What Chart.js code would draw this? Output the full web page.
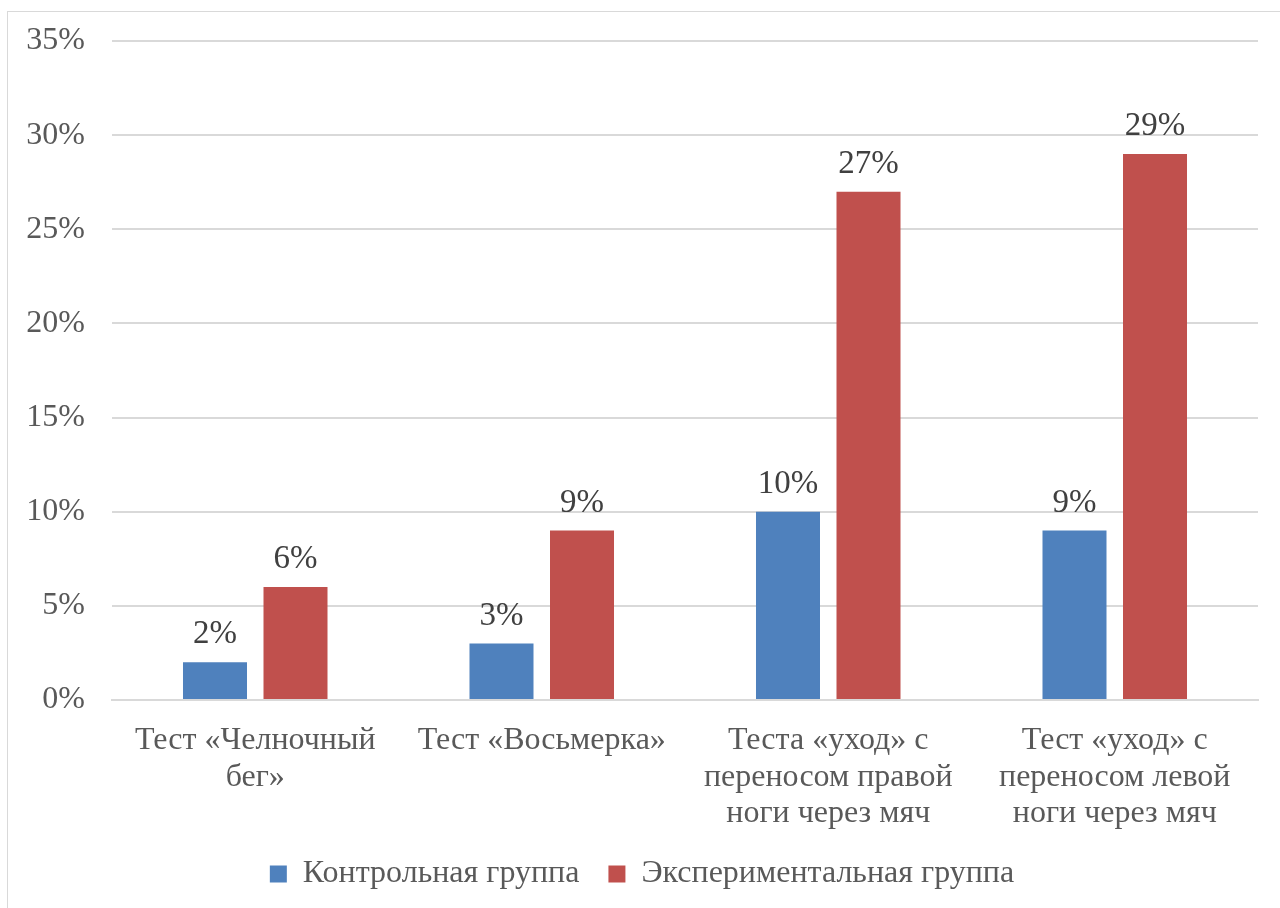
<!DOCTYPE html>
<html>
<head>
<meta charset="utf-8">
<script src="https://cdn.jsdelivr.net/npm/chart.js@4.4.1/dist/chart.umd.min.js"></script>
<style>
  html, body { margin: 0; padding: 0; background: #fff; }
  body { width: 1280px; height: 908px; overflow: hidden; position: relative; }
  .frame { position: absolute; left: 7px; top: 11px; width: 1300px; height: 1000px; border: 1.5px solid #d9d9d9; box-sizing: border-box; }
  .wrap { position: absolute; left: 0; top: 0; width: 1280px; height: 908px; }
</style>
</head>
<body>
<div class="frame"></div>
<div class="wrap"><canvas id="chart"></canvas></div>
<script>
const categories = [
  ['Тест «Челночный', 'бег»'],
  'Тест «Восьмерка»',
  ['Теста «уход» с', 'переносом правой', 'ноги через мяч'],
  ['Тест «уход» с', 'переносом левой', 'ноги через мяч']
];
const controlValues = [2, 3, 10, 9];
const experimentValues = [6, 9, 27, 29];
const seriesNames = ['Контрольная группа', 'Экспериментальная группа'];

const FONT = '"Liberation Serif", "Times New Roman", serif';

// value labels above each bar
const barLabels = {
  id: 'barLabels',
  afterDatasetsDraw(chart) {
    const ctx = chart.ctx;
    ctx.save();
    ctx.font = '33px ' + FONT;
    ctx.fillStyle = '#404040';
    ctx.textAlign = 'center';
    ctx.textBaseline = 'alphabetic';
    chart.data.datasets.forEach((ds, i) => {
      chart.getDatasetMeta(i).data.forEach((bar, j) => {
        ctx.fillText(ds.data[j] + '%', bar.x, bar.y - 19);
      });
    });
    ctx.restore();
  }
};

new Chart(document.getElementById('chart'), {
  type: 'bar',
  data: {
    labels: categories,
    datasets: [
      { label: seriesNames[0], data: controlValues, backgroundColor: '#4f81bd' },
      { label: seriesNames[1], data: experimentValues, backgroundColor: '#c0504d' }
    ]
  },
  options: {
    responsive: true,
    maintainAspectRatio: false,
    animation: false,
    categoryPercentage: 0.562,
    barPercentage: 0.795,
    layout: { padding: { left: 26, right: 22, top: 41, bottom: 8 } },
    scales: {
      x: {
        grid: { display: false, drawTicks: false },
        border: { display: true, color: '#d9d9d9', width: 2 },
        ticks: {
          color: '#595959',
          font: { family: FONT, size: 32, lineHeight: 1.13 },
          maxRotation: 0,
          autoSkip: false,
          padding: 23
        },
        afterFit: scale => { scale.height = 129; }
      },
      y: {
        min: 0,
        max: 35,
        border: { display: false },
        grid: { color: '#d9d9d9', lineWidth: 2, drawTicks: false },
        ticks: {
          stepSize: 5,
          color: '#595959',
          font: { family: FONT, size: 32 },
          padding: 27,
          callback: v => v + '%'
        },
        afterFit: scale => {
          scale.width = 86;
          scale.paddingTop = 0;
        }
      }
    },
    plugins: {
      legend: {
        position: 'bottom',
        labels: {
          color: '#595959',
          font: { family: FONT, size: 32 },
          boxWidth: 17,
          boxHeight: 17,
          padding: 29
        }
      },
      tooltip: { enabled: false }
    }
  },
  plugins: [barLabels]
});
</script>
</body>
</html>
